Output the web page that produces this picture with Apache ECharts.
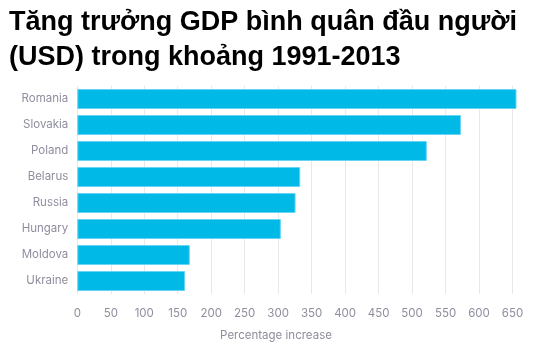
<!DOCTYPE html>
<html>
<head>
<meta charset="utf-8">
<script src="https://cdn.jsdelivr.net/npm/echarts@6/dist/echarts.min.js"></script>
<style>html,body{margin:0;padding:0;background:#fff}#c{width:557px;height:362px}</style>
</head>
<body>
<div id="c"></div>
<script>
const categories = ["Romania", "Slovakia", "Poland", "Belarus", "Russia", "Hungary", "Moldova", "Ukraine"];
const values = [656, 573, 522, 333, 326, 304, 168, 161];
const xTicks = [0, 50, 100, 150, 200, 250, 300, 350, 400, 450, 500, 550, 600, 650];
const titleText = "Tăng trưởng GDP bình quân đầu người\n(USD) trong khoảng 1991-2013";
const axisTitle = "Percentage increase";

const chart = echarts.init(document.getElementById('c'), null, {renderer: 'canvas'});
const gray = '#8e8e9e';
chart.setOption({
  animation: false,
  title: {
    text: titleText,
    left: 4, top: 0,
    textStyle: {fontFamily: 'Liberation Sans, Arial, sans-serif', fontWeight: 'bold', fontSize: 27, lineHeight: 35, color: '#000'}
  },
  grid: {left: 77.3, top: 86, height: 208, width: 0.6695 * 660, containLabel: false},
  xAxis: {
    type: 'value', min: 0, max: 660, interval: 50,
    axisLine: {show: false}, axisTick: {show: false},
    splitLine: {show: true, showMaxLine: false, lineStyle: {color: '#e8e8e8', width: 1}},
    axisLabel: {
      showMaxLabel: false, margin: 14, color: gray, fontSize: 11.5, fontFamily: 'Inter, sans-serif',
      formatter: v => xTicks.includes(v) ? String(v) : ''
    }
  },
  yAxis: {
    type: 'category', data: categories, inverse: true,
    axisLine: {show: false}, axisTick: {show: false},
    axisLabel: {color: gray, fontSize: 11.5, margin: 9, fontFamily: 'Inter, sans-serif'}
  },
  graphic: [{
    type: 'text', x: 276, y: 336,
    style: {text: axisTitle, fill: gray, fontSize: 11.5, fontFamily: 'Inter, sans-serif', textAlign: 'center', textVerticalAlign: 'middle'}
  }],
  series: [{
    type: 'bar', data: values, barWidth: 20,
    itemStyle: {color: '#00b9e6', borderColor: '#66d4f2', borderWidth: 1}
  }]
});
</script>
</body>
</html>
